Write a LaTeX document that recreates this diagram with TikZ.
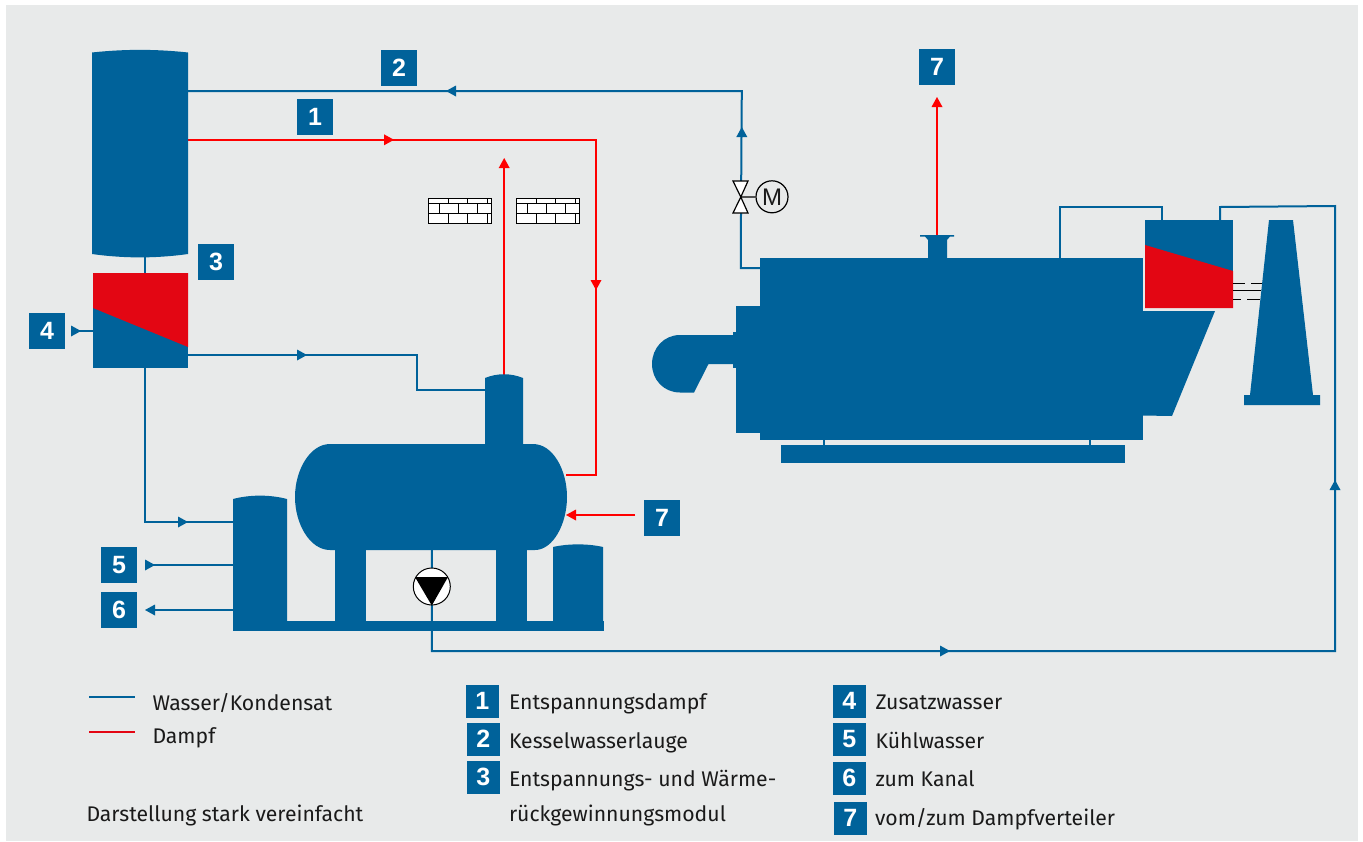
\documentclass[tikz,border=0pt]{standalone}
\usepackage{fontspec}
\setmainfont{Fira Sans}
\newfontfamily\numfont{Liberation Sans}[BoldFont={Liberation Sans Bold}]
\definecolor{bgrey}{HTML}{E8EAEA}
\definecolor{bblue}{HTML}{00629A}
\definecolor{bred}{HTML}{E30613}
\definecolor{lred}{HTML}{FF0000}
\definecolor{txt}{HTML}{1A1A1A}
\tikzset{
  bluefill/.style={fill=bblue,draw=none},
  redfill/.style={fill=bred,draw=none},
  pipeb/.style={draw=bblue,line width=2pt,line join=miter},
  piper/.style={draw=lred,line width=2pt,line join=miter},
  badge/.style={fill=bblue,text=white,font=\numfont\bfseries\fontsize{25}{25}\selectfont,minimum size=36pt,inner sep=0pt,outer sep=0pt,anchor=north west},
  lbadge/.style={badge,minimum size=32.5pt},
  legtext/.style={anchor=base west,inner sep=0pt,outer sep=0pt,text=txt,font=\fontsize{21.2}{24}\selectfont},
  tipblue/.pic={\fill[bblue] (5,0) -- (-5,-5.5) -- (-5,5.5) -- cycle;},
  tipred/.pic={\fill[lred] (5,0) -- (-5,-5.5) -- (-5,5.5) -- cycle;},
  wall/.pic={
    \draw[fill=white,draw=black,line width=1pt] (0,0) rectangle (63,25);
    \draw[black,line width=1pt] (0,5) -- (63,5) (0,15) -- (63,15);
    \foreach \vx in {20,39,59} {\draw[black,line width=1pt] (\vx,0) -- (\vx,5) (\vx,15) -- (\vx,25);}
    \foreach \vx in {11,30,49} {\draw[black,line width=1pt] (\vx,5) -- (\vx,15);}
  }
}
\begin{document}
\begin{tikzpicture}[x=1pt,y=-1pt]
\useasboundingbox (0,0) rectangle (1363,841);
\fill[white] (0,0) rectangle (1363,841);
\fill[bgrey] (6,5) rectangle (1357.5,841);

% ---- connection points
\coordinate (tankA) at (188,91);
\coordinate (tankB) at (188,139.8);
\coordinate (cornerA) at (741.8,91);
\coordinate (valveTop) at (741.2,181);
\coordinate (valveBot) at (741,213);
\coordinate (cornerB) at (740.8,268);
\coordinate (boilerL) at (760,268);
\coordinate (cornerC) at (596,139.8);
\coordinate (cornerD) at (596,475);
\coordinate (vesselR) at (566,475);
\coordinate (stackTop) at (504.2,376);
\coordinate (stackArrow) at (504.2,160);
\coordinate (modR) at (188,355);
\coordinate (cornerE) at (417,355);
\coordinate (cornerF) at (417,390);
\coordinate (stackL) at (485,390);
\coordinate (tankBot) at (145.2,257);
\coordinate (modTop) at (145.2,273);
\coordinate (modBot) at (145.2,368);
\coordinate (cornerG) at (145.2,522);
\coordinate (smallTankA) at (233,522);
\coordinate (smallTankB) at (233,565);
\coordinate (end5) at (146,565);
\coordinate (smallTankC) at (233,610);
\coordinate (end6) at (150,610);
\coordinate (modIn) at (93,331);
\coordinate (end4) at (76,331);
\coordinate (vesselB) at (431.8,550);
\coordinate (plate) at (431.8,631);
\coordinate (cornerH) at (431.8,651);
\coordinate (cornerI) at (1335,651);
\coordinate (cornerJ) at (1335,206);
\coordinate (cornerK) at (1220,207);
\coordinate (ecoTop) at (1220,220);
\coordinate (boilerTop) at (1059.8,258);
\coordinate (cornerL) at (1059.8,207.2);
\coordinate (cornerM) at (1162,207.2);
\coordinate (ecoTop2) at (1162,220);
\coordinate (nozzle) at (937,236);
\coordinate (end7a) at (937,104);
\coordinate (end7b) at (635,515);
\coordinate (vessel7) at (572,515);

% ---- pipes
\draw[pipeb] (tankA) -- (cornerA) -- (valveTop);
\draw[pipeb] (valveBot) -- (cornerB) -- (boilerL);
\draw[piper] (tankB) -- (cornerC) -- (cornerD) -- (vesselR);
\draw[piper] (stackTop) -- (stackArrow);
\draw[pipeb] (modR) -- (cornerE) -- (cornerF) -- (stackL);
\draw[pipeb] (tankBot) -- (modTop);
\draw[pipeb] (modBot) -- (cornerG) -- (smallTankA);
\draw[pipeb] (smallTankB) -- (end5);
\draw[pipeb] (smallTankC) -- (end6);
\draw[pipeb] (modIn) -- (end4);
\draw[pipeb] (vesselB) -- (plate) -- (cornerH) -- (cornerI) -- (cornerJ) -- (cornerK) -- (ecoTop);
\draw[pipeb] (boilerTop) -- (cornerL) -- (cornerM) -- (ecoTop2);
\draw[piper] (nozzle) -- (end7a);
\draw[piper] (end7b) -- (vessel7);

% ---- column and flash module
\fill[bluefill] (92,52.5) .. controls (124,49) and (156,49) .. (188,52.5) -- (188,254) .. controls (156,258.5) and (124,258.5) .. (92,254) -- cycle;
\fill[bluefill] (93,273) rectangle (188,368);
\fill[redfill] (93,273) -- (188,273) -- (188,347) -- (93,308) -- cycle;

% ---- feed vessel
\fill[bluefill] (330,444) .. controls (310,444) and (295,470) .. (295,497) .. controls (295,524) and (310,550) .. (330,550)
  -- (535,550) .. controls (553,550) and (567,524) .. (567,497) .. controls (567,470) and (553,444) .. (533,444) -- cycle;
\fill[bluefill] (485,446) -- (485,378) .. controls (497,373) and (511,373) .. (523,378) -- (523,446) -- cycle;
\fill[bluefill] (335,548) rectangle (366,622);
\fill[bluefill] (496,548) rectangle (527,622);
\fill[bluefill] (233,621) rectangle (604,631);
\fill[bluefill] (233,622) -- (233,499) .. controls (250,494.5) and (270,494.5) .. (287,499) -- (287,622) -- cycle;
\fill[bluefill] (553,622) -- (553,547) .. controls (568,543.5) and (588,543.5) .. (603,547) -- (603,622) -- cycle;

% ---- pump
\node[circle,draw=black,fill=white,line width=1pt,minimum size=37pt,inner sep=0pt] (pump) at (431.8,586.5) {};
\fill[black] (415,577) -- (448,577) -- (431.8,605.5) -- cycle;

% ---- boiler
\fill[bluefill] (760,258) rectangle (1143,440);
\fill[bluefill] (736,306) rectangle (761,433);
\fill[bluefill] (733,332) rectangle (737,368);
\fill[bluefill] (734,335) -- (680,335) .. controls (664,335) and (652,348) .. (652,364) .. controls (652,380) and (664,392.5) .. (680,392.5) -- (694,392.5) -- (708.5,364) -- (734,364) -- cycle;
\fill[bluefill] (1142,311) -- (1215,311) -- (1172,416) -- (1142,415.5) -- cycle;
\fill[bluefill] (781,445) rectangle (1125,463);
\draw[pipeb,line width=1.4pt] (824,440) -- (824,445) (1090,440) -- (1090,445);
\fill[bluefill] (928,259) -- (928,240) -- (925,236.5) -- (920,236.5) -- (920,235) -- (954,235) -- (954,236.5) -- (950,236.5) -- (947,240) -- (947,259) -- cycle;

% ---- economiser and chimney
\fill[bluefill] (1145,220) rectangle (1233,308);
\fill[redfill] (1145,245) -- (1233,271) -- (1233,308) -- (1145,308) -- cycle;
\fill[bluefill] (1269,220) -- (1293,220) -- (1313,395) -- (1320,395) -- (1320,405) -- (1244,405) -- (1244,395) -- (1250,395) -- cycle;
\draw[black,line width=1pt] (1233,283) -- (1245,283) (1251,283) -- (1262,283);
\draw[black,line width=1pt] (1233,290) -- (1261,290);
\draw[black,line width=1pt] (1233,299) -- (1241,299) (1247,299) -- (1260,299);

% ---- valve and motor
\draw[fill=white,draw=black,line width=1.2pt,line join=miter] (733,181) -- (748,181) -- (740.8,197) -- cycle;
\draw[fill=white,draw=black,line width=1.2pt,line join=miter] (733,213) -- (748,213) -- (740.8,197) -- cycle;
\node[circle,draw=black,line width=1.2pt,minimum size=32pt,inner sep=0pt,text=txt,font=\numfont\fontsize{24}{24}\selectfont] (motor) at (772,196.8) {M};
\coordinate (valveC) at (740.8,197);
\draw[black,line width=1.2pt] (valveC) -- (motor);

% ---- walls
\path (428.8,198.8) pic {wall};
\path (516,198.8) pic {wall};

% ---- arrowheads
\path (451,91) pic[rotate=180] {tipblue};
\path (741.8,132) pic[rotate=90] {tipblue};
\path (302,355) pic {tipblue};
\path (183,522) pic {tipblue};
\path (150,565) pic {tipblue};
\path (150,610) pic[rotate=180] {tipblue};
\path (76,331) pic {tipblue};
\path (945,651) pic {tipblue};
\path (1335,485) pic[rotate=90] {tipblue};
\path (389,139.8) pic {tipred};
\path (596,285) pic[rotate=270] {tipred};
\path (504.2,163) pic[rotate=90] {tipred};
\path (937,102) pic[rotate=90] {tipred};
\path (571,515) pic[rotate=180] {tipred};

% ---- diagram badges
\node[badge] (b2) at (381,50) {2};
\node[badge] (b1) at (297,99) {1};
\node[badge] (b3) at (198,244) {3};
\node[badge] (b4) at (29,313) {4};
\node[badge] (b5) at (101,547) {5};
\node[badge] (b6) at (101,592) {6};
\node[badge] (b7a) at (919,49) {7};
\node[badge] (b7b) at (644,500) {7};

% ---- legend
\coordinate (lbS) at (89,697);
\coordinate (lbE) at (135,697);
\coordinate (lrS) at (89,731.8);
\coordinate (lrE) at (135,731.8);
\draw[pipeb] (lbS) -- (lbE);
\draw[draw=bred,line width=2pt] (lrS) -- (lrE);
\node[legtext] (t1) at (152.5,710) {Wasser/Kondensat};
\node[legtext] (t2) at (152.5,743.2) {Dampf};
\node[legtext] (t3) at (86.5,821) {Darstellung stark vereinfacht};

\node[lbadge] (l1) at (466,685) {1};
\node[lbadge] (l2) at (467,723) {2};
\node[lbadge] (l3) at (467,761) {3};
\node[legtext] (e1) at (509,709) {Entspannungsdampf};
\node[legtext] (e2) at (509,748) {Kesselwasserlauge};
\node[legtext] (e3) at (509,786) {Entspannungs- und Wärme-};
\node[legtext] (e4) at (509,821) {rückgewinnungsmodul};

\node[lbadge] (l4) at (833,685) {4};
\node[lbadge] (l5) at (833,723) {5};
\node[lbadge] (l6) at (833,762) {6};
\node[lbadge] (l7) at (834,802) {7};
\node[legtext] (e5) at (875.5,709) {Zusatzwasser};
\node[legtext] (e6) at (875.5,748) {Kühlwasser};
\node[legtext] (e7) at (875.5,786) {zum Kanal};
\node[legtext] (e8) at (875,825) {vom/zum Dampfverteiler};
\end{tikzpicture}
\end{document}
